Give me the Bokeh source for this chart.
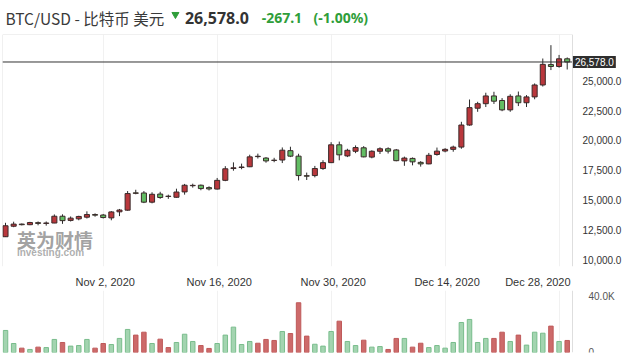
import pandas as pd
from bokeh.plotting import figure
from bokeh.layouts import column
from bokeh.models import Range1d, FixedTicker, NumeralTickFormatter, Label
from bokeh.embed import file_html
from bokeh.resources import INLINE
from bokeh.core.properties import value

# ---------------- data ----------------
dates = pd.date_range("2020-10-21", "2020-12-29", freq="D")

opens = [11920, 12800, 12980, 12930, 13100, 13040, 13070, 13640, 13290, 13420,
         13560, 13780, 13740, 13500, 14010, 14150, 15600, 15590, 14820, 15500,
         15320, 15230, 15680, 16200, 16240, 16040, 15920, 16650, 17640, 17730,
         17790, 18670, 18520, 18340, 18355, 19140, 18680, 17040, 17050, 17640,
         18135, 19630, 18700, 19090, 19380, 18600, 19090, 19300, 19200, 18280,
         18490, 18160, 18030, 18820, 19110, 19250, 19440, 21290, 22700, 23080,
         23730, 23350, 22560, 23730, 23160, 23650, 24650, 26360, 26200, 26845]
highs = [13090, 13180, 13030, 13170, 13200, 13200, 13790, 13800, 13620, 13680,
         14050, 13880, 13830, 14070, 14250, 15750, 15860, 15750, 15650, 15690,
         15450, 15950, 16350, 16370, 16300, 16150, 16850, 17840, 18160, 18050,
         18800, 18890, 18600, 18540, 19410, 19470, 18880, 17300, 17860, 18340,
         19850, 19900, 19300, 19580, 19520, 19170, 19420, 19420, 19280, 18640,
         18570, 18260, 18950, 19400, 19350, 19560, 21560, 23430, 23240, 24000,
         24080, 23550, 23870, 24100, 23800, 24780, 26870, 27990, 27170, 26960]
lows = [11900, 12720, 12870, 12890, 12880, 12850, 13060, 13000, 13200, 13300,
        13450, 13600, 13450, 13300, 13650, 14100, 15480, 14740, 14720, 15100,
        15100, 15200, 15450, 16040, 15820, 15800, 15880, 16580, 17460, 17580,
        17760, 18480, 18130, 18170, 18100, 18600, 16640, 16680, 16900, 17530,
        18100, 18330, 18600, 18930, 18580, 18500, 18860, 18900, 18250, 17870,
        17910, 17800, 18000, 18720, 19000, 19050, 19300, 21230, 22400, 22800,
        23060, 22450, 22400, 22880, 22800, 23450, 24520, 25900, 26100, 25950]
closes = [12840, 12980, 12930, 13110, 13040, 13070, 13640, 13270, 13480, 13620,
          13780, 13730, 13530, 14000, 14160, 15540, 15560, 14820, 15480, 15210,
          15300, 15670, 16240, 16230, 15960, 15930, 16650, 17620, 17700, 17770,
          18620, 18640, 18280, 18320, 19180, 18680, 17050, 17000, 17640, 18135,
          19630, 18790, 19170, 19400, 18620, 19090, 19300, 19100, 18300, 18520,
          18200, 18030, 18750, 19100, 19250, 19440, 21290, 22750, 23080, 23730,
          23290, 22560, 23700, 23160, 23650, 24650, 26380, 26200, 26845, 26578]
volumes = [15200, 6200, 3000, 2100, 3700, 3400, 9000, 6900, 4400, 4800,
           9000, 3000, 6200, 5500, 9700, 15900, 12000, 14000, 6200, 9200,
           3400, 6900, 12600, 7600, 4800, 2800, 6200, 12000, 17500, 5500,
           7600, 6400, 9000, 8300, 14500, 13100, 34300, 11300, 5700, 4400,
           14500, 21600, 7600, 4800, 8500, 3700, 4100, 2100, 9700, 9700,
           3700, 6400, 3400, 4800, 3000, 6900, 20700, 22800, 6900, 9700,
           9700, 14000, 7600, 12000, 5100, 14000, 13300, 18200, 7600, 8300]

tick_dates = ["2020-11-02", "2020-11-16", "2020-11-30", "2020-12-14", "2020-12-28"]
tick_labels = ["Nov 2, 2020", "Nov 16, 2020", "Nov 30, 2020", "Dec 14, 2020", "Dec 28, 2020"]
price_ticks = [10000, 12500, 15000, 17500, 20000, 22500, 25000]
vol_ticks = [0, 40000]
vol_tick_labels = ["0", "40.0K"]

title_text = "BTC/USD - 比特币 美元"
last_price = 26578.0
change = -267.1
change_pct = -1.00

# ---------------- derived ----------------
x = list(range(len(dates)))
up = [c >= o for o, c in zip(opens, closes)]
body_top = [max(o, c) for o, c in zip(opens, closes)]
body_bot = [min(o, c) for o, c in zip(opens, closes)]
candle_fill = ["#b9373c" if u else "#62bd63" for u in up]
vol_fill = ["#a3d4b0" if u else "#cd6a6a" for u in up]
vol_line = ["#79bd8c" if u else "#bf5a5a" for u in up]

date_index = {d.strftime("%Y-%m-%d"): i for i, d in enumerate(dates)}
grid_ticks = [date_index[d] for d in tick_dates]
# the last label is pushed left so that it stays inside the plot, as in the original
axis_ticks = [g + 0.25 for g in grid_ticks[:-1]] + [grid_ticks[-1] - 2.6]
overrides = {t: lab for t, lab in zip(axis_ticks, tick_labels)}

W = 623
FONT = "Liberation Sans"

# plot area: candles live left of the price scale; the scale itself sits inside the frame
x_start = -0.37
x_edge = len(dates) - 0.35           # where the price scale begins
day_px = 570.0 / (x_edge - x_start)
x_end = x_start + 621.0 / day_px
x_range = Range1d(x_start, x_end)

# ---------------- title strip ----------------
t = figure(width=W, height=34, x_range=Range1d(0, W), y_range=Range1d(0, 34),
           toolbar_location=None, output_backend="svg", min_border=0,
           x_axis_location=None, y_axis_location=None, outline_line_color=None)
t.grid.visible = False
t.text(x=[3], y=[17], text=[title_text], text_font=value("Noto Sans CJK SC"),
       text_font_size="15.5px", text_color="#3a3a3a", text_baseline="middle")
t.scatter(x=[173.5], y=[20], marker="inverted_triangle", size=7,
          fill_color="#2f9e3a", line_color="#2f9e3a")
t.text(x=[183], y=[17], text=[f"{last_price:,.1f}"], text_font=value("Noto Sans"),
       text_font_size="16px", text_font_style="bold", text_color="#333333",
       text_baseline="middle")
t.text(x=[260], y=[17], text=[f"{change:,.1f}"], text_font=value("Noto Sans"),
       text_font_size="14px", text_font_style="bold", text_color="#2f9e3a",
       text_baseline="middle")
t.text(x=[312], y=[17], text=[f"({change_pct:.2f}%)"], text_font=value("Noto Sans"),
       text_font_size="14px", text_font_style="bold", text_color="#2f9e3a",
       text_baseline="middle")

# ---------------- price pane ----------------
p = figure(width=W, height=256, x_range=x_range, y_range=Range1d(9423, 28884),
           y_axis_location="right", toolbar_location=None, output_backend="svg",
           min_border_left=2, min_border_right=0, min_border_top=0, min_border_bottom=17,
           outline_line_color=None)
p.xaxis.ticker = FixedTicker(ticks=axis_ticks)
p.xaxis.major_label_overrides = overrides
p.xaxis.axis_line_color = None
p.xaxis.major_tick_line_color = None
p.xaxis.minor_tick_line_color = None
p.xaxis.major_label_standoff = 3
p.xaxis.major_label_text_font = FONT
p.xaxis.major_label_text_font_size = "11px"
p.xaxis.major_label_text_color = "#333333"
p.xgrid.ticker = FixedTicker(ticks=grid_ticks)
p.xgrid.grid_line_color = "#f1f1f1"
p.ygrid.grid_line_color = None

p.yaxis.fixed_location = x_edge
p.yaxis.ticker = FixedTicker(ticks=price_ticks)
p.yaxis.formatter = NumeralTickFormatter(format="0,0.0")
p.yaxis.axis_line_color = "#dedede"
p.yaxis.major_tick_line_color = None
p.yaxis.minor_tick_line_color = None
p.yaxis.major_label_standoff = 4
p.yaxis.major_label_text_font = FONT
p.yaxis.major_label_text_font_size = "10px"
p.yaxis.major_label_text_color = "#333333"

# frame edges (top and left) of the chart area
p.segment(x0=[x_start, x_start], y0=[p.y_range.end, p.y_range.start],
          x1=[x_edge, x_start], y1=[p.y_range.end, p.y_range.end],
          line_color="#e2e2e2", line_width=1)

# watermark
p.add_layout(Label(x=1.4, y=12800, text="英为财情", text_baseline="top",
                   text_font="Noto Sans CJK SC", text_font_size="19px",
                   text_font_style="bold", text_color="#8a8a8a", text_alpha=0.8))
p.add_layout(Label(x=1.4, y=11080, text="Investing.com", text_baseline="top",
                   text_font="Liberation Sans", text_font_size="10px",
                   text_font_style="bold", text_color="#9a9a9a", text_alpha=0.8))

p.segment(x0=x, y0=lows, x1=x, y1=highs, line_color="#2a2a2a", line_width=1)
p.vbar(x=x, width=0.62, top=body_top, bottom=body_bot, fill_color=candle_fill,
       line_color="#3a2a2a", line_width=1)

p.segment(x0=[x_start], y0=[last_price], x1=[x_edge], y1=[last_price],
          line_color="#333333", line_width=1)
p.add_layout(Label(x=x_edge + 0.05, y=last_price, text=f"{last_price:,.1f}",
                   text_baseline="middle", text_align="left", text_font=FONT,
                   text_font_size="10px", text_color="white", level="overlay",
                   background_fill_color="#2e2e2e", padding=2))

# ---------------- volume pane ----------------
v = figure(width=W, height=69, x_range=x_range, y_range=Range1d(0, 42759),
           y_axis_location="right", x_axis_location=None, toolbar_location=None,
           output_backend="svg", min_border_left=2, min_border_right=0,
           min_border_top=0, min_border_bottom=7, outline_line_color=None)
v.yaxis.fixed_location = x_edge
v.yaxis.ticker = FixedTicker(ticks=vol_ticks)
v.yaxis.major_label_overrides = {t_: lab for t_, lab in zip(vol_ticks, vol_tick_labels)}
v.yaxis.axis_line_color = "#dedede"
v.yaxis.major_tick_line_color = None
v.yaxis.minor_tick_line_color = None
v.yaxis.major_label_standoff = 10
v.yaxis.major_label_text_font = FONT
v.yaxis.major_label_text_font_size = "10px"
v.yaxis.major_label_text_color = "#555555"
v.xgrid.ticker = FixedTicker(ticks=grid_ticks)
v.xgrid.grid_line_color = "#f1f1f1"
v.ygrid.grid_line_color = None
v.vbar(x=x, width=0.55, top=volumes, bottom=0, fill_color=vol_fill, line_color=vol_line)

layout = column(t, p, v)
open("out.html", "w").write(file_html(layout, INLINE))
